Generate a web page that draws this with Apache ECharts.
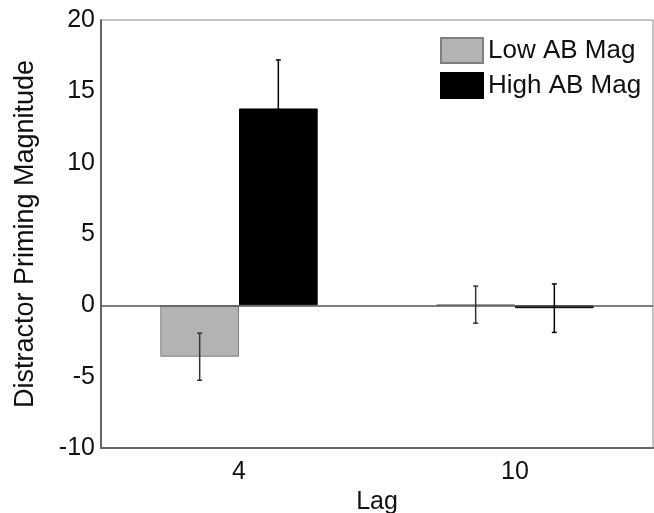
<!DOCTYPE html>
<html>
<head>
<meta charset="UTF-8">
<title>Distractor Priming</title>
<script src="https://cdn.jsdelivr.net/npm/echarts@6/dist/echarts.min.js"></script>
<style>
  html, body { margin: 0; padding: 0; background: #fff; }
  #main { width: 654px; height: 513px; }
</style>
</head>
<body>
<div id="main"></div>
<script>
// lag categories
var lags = ['4', '10'];
// group means
var lowAB = [-3.6, 0.05];
var highAB = [13.8, -0.2];
// standard errors
var lowErr = [1.65, 1.3];
var highErr = [3.4, 1.7];

var yTicks = [-10, 20, 5]; // min, max, step

var chart = echarts.init(document.getElementById('main'));
var font = '"Liberation Sans", Arial, sans-serif';
var gapPct = 0.43;

// one row per error bar: [category index, mean, se, series offset -1/+1]
var errRows = [];
lags.forEach(function (l, i) {
  errRows.push([i, lowAB[i], lowErr[i], -1]);
  errRows.push([i, highAB[i], highErr[i], 1]);
});

function renderErr(params, api) {
  var ci = api.value(0), m = api.value(1), se = api.value(2), side = api.value(3);
  var band = api.size([1, 0])[0];
  var barW = band * (1 - gapPct) / 2;
  var top = api.coord([ci, m + se]);
  var bot = api.coord([ci, m - se]);
  var x = top[0] + side * barW / 2;
  var cap = 2.5;
  // black on the black bars so the hidden half stays hidden
  var st = { stroke: side > 0 ? '#000' : '#333', lineWidth: 1.5 };
  return {
    type: 'group',
    children: [
      { type: 'line', shape: { x1: x, y1: top[1], x2: x, y2: bot[1] }, style: st },
      { type: 'line', shape: { x1: x - cap, y1: top[1], x2: x + cap, y2: top[1] }, style: st },
      { type: 'line', shape: { x1: x - cap, y1: bot[1], x2: x + cap, y2: bot[1] }, style: st }
    ]
  };
}

var option = {
  backgroundColor: '#fff',
  animation: false,
  textStyle: { fontFamily: font },
  grid: {
    left: 101, right: 1, top: 20, bottom: 65,
    outerBoundsMode: 'none',
    containLabel: false,
    show: true, borderColor: '#888', borderWidth: 1, backgroundColor: 'transparent'
  },
  legend: {
    orient: 'vertical',
    left: 435, top: 32,
    itemWidth: 42, itemHeight: 25, itemGap: 8,
    icon: 'rect',
    textStyle: { fontSize: 26, color: '#111', fontFamily: font },
    data: ['Low AB Mag', 'High AB Mag']
  },
  xAxis: {
    type: 'category',
    data: lags,
    name: 'Lag',
    nameLocation: 'middle',
    nameGap: 40,
    nameTextStyle: { fontSize: 25, color: '#111' },
    axisLine: { show: true, onZero: false, lineStyle: { color: '#666', width: 2 } },
    axisTick: { show: false },
    axisLabel: { fontSize: 25, color: '#111', margin: 12 },
    splitLine: { show: false }
  },
  yAxis: {
    type: 'value',
    min: yTicks[0], max: yTicks[1], interval: yTicks[2],
    name: 'Distractor Priming Magnitude',
    nameLocation: 'middle',
    nameGap: 62,
    nameTextStyle: { fontSize: 27, color: '#111' },
    axisLine: { show: true, lineStyle: { color: '#666', width: 2 } },
    axisTick: { show: false },
    axisLabel: { fontSize: 25, color: '#111', margin: 6 },
    splitLine: { show: false }
  },
  series: [
    {
      name: 'Low AB Mag',
      type: 'bar',
      data: lowAB,
      barGap: '0%',
      barCategoryGap: (gapPct * 100) + '%',
      itemStyle: { color: '#b3b3b3', borderColor: '#7f7f7f', borderWidth: 1 },
      markLine: {
        silent: true,
        symbol: 'none',
        label: { show: false },
        lineStyle: { color: '#555', width: 1.5, type: 'solid' },
        data: [{ yAxis: 0 }]
      }
    },
    {
      name: 'High AB Mag',
      type: 'bar',
      data: highAB,
      barGap: '0%',
      barCategoryGap: (gapPct * 100) + '%',
      itemStyle: { color: '#000', borderColor: '#000', borderWidth: 1 }
    },
    {
      type: 'custom',
      data: errRows,
      renderItem: renderErr,
      z: 10,
      silent: true
    }
  ]
};

chart.setOption(option);
</script>
</body>
</html>
